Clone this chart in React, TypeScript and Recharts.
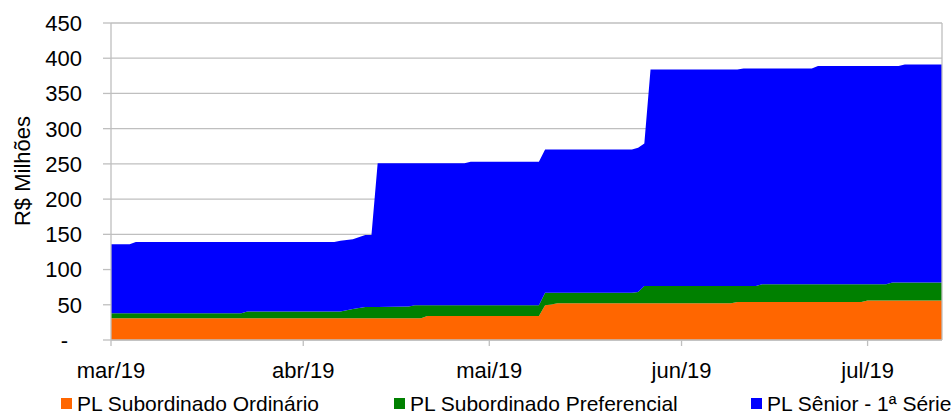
import React from "react";
import { AreaChart, Area, XAxis, YAxis, CartesianGrid, Legend, ReferenceLine } from "recharts";

// dates where the series change (linear between them, like the original)
const dates = [
  "2019-03-01", "2019-03-04", "2019-03-05", "2019-03-22", "2019-03-23",
  "2019-04-06", "2019-04-07", "2019-04-09", "2019-04-11", "2019-04-12",
  "2019-04-13", "2019-04-18", "2019-04-19", "2019-04-20", "2019-04-21",
  "2019-04-27", "2019-04-28", "2019-05-09", "2019-05-10", "2019-05-11",
  "2019-05-12", "2019-05-24", "2019-05-25", "2019-05-26", "2019-05-27",
  "2019-06-09", "2019-06-10", "2019-06-11", "2019-06-13", "2019-06-14",
  "2019-06-22", "2019-06-23", "2019-06-30", "2019-07-01", "2019-07-04",
  "2019-07-05", "2019-07-06", "2019-07-07", "2019-07-13",
];
const ordinario = [
  31, 31, 31, 31, 31,
  31, 31, 31, 31, 31,
  31, 31, 31, 31, 34,
  34, 34, 34, 49.5, 50.5,
  52, 52, 52, 52, 52,
  52, 54, 54, 54, 54,
  54, 54, 54, 56, 56,
  56, 56, 56, 56,
];
const preferencial = [
  7, 7, 7, 7, 9.5,
  9.5, 9.5, 13, 16, 16,
  16, 16.5, 18.5, 18.5, 15.5,
  15.5, 15.5, 15.5, 17.5, 16.5,
  15, 15, 16, 24.5, 24.5,
  24.5, 22.5, 22.5, 22.5, 25,
  25, 25, 25, 23, 23,
  25.5, 25.5, 25.5, 25.5,
];
const senior = [
  98, 98, 101, 101, 98.5,
  98.5, 100.5, 99, 102, 102,
  204, 203.5, 201.5, 201.5, 201.5,
  201.5, 203.5, 203.5, 203.5, 203.5,
  203.5, 203.5, 205, 202.5, 307.5,
  307.5, 307.5, 309, 309, 306.5,
  306.5, 310, 310, 310, 310,
  307.5, 307.5, 309.5, 309.5,
];

const monthTicks = ["2019-03-01", "2019-04-01", "2019-05-01", "2019-06-01", "2019-07-01"];
const monthLabels = ["mar/19", "abr/19", "mai/19", "jun/19", "jul/19"];
const startDate = "2019-03-01";
const endDate = "2019-07-13";
const yTicks = [0, 50, 100, 150, 200, 250, 300, 350, 400, 450];

const seriesNames = ["PL Subordinado Ordinário", "PL Subordinado Preferencial", "PL Sênior - 1ª Série"];
const colors = ["#FF6600", "#008000", "#0000FF"];

const ts = (d: string) => Date.parse(d + "T00:00:00Z");

const data = dates.map((d, i) => ({
  t: ts(d),
  ordinario: ordinario[i],
  preferencial: preferencial[i],
  senior: senior[i],
}));

const font = "'Liberation Sans', Arial, sans-serif";
const grey = "#bfbfbf";

function YTick(props: any) {
  const { x, y, payload } = props;
  const zero = payload.value === 0;
  return (
    <text x={zero ? x - 14 : x} y={y} dy="0.36em" textAnchor="end" fill="#000" fontSize={22} fontFamily={font}>
      {zero ? "-" : payload.value}
    </text>
  );
}

function LegendBox() {
  const lefts = [61, 394, 751];
  return (
    <div style={{ position: "relative", width: 951, height: 30, fontFamily: font, fontSize: 21 }}>
      {seriesNames.map((n, i) => (
        <div key={n} style={{ position: "absolute", left: lefts[i], top: 0 }}>
          <div style={{ position: "absolute", left: 0, top: 9, width: 11, height: 11, background: colors[i] }} />
          <div style={{ position: "absolute", left: 16, top: 4, lineHeight: "21px", whiteSpace: "nowrap", color: "#000" }}>{n}</div>
        </div>
      ))}
    </div>
  );
}

export default function App() {
  return (
    <div style={{ position: "absolute", left: 0, top: 0, background: "#fff" }}>
      <AreaChart width={951} height={419} data={data} margin={{ top: 23, right: 9, bottom: 0, left: 0 }}>
        <CartesianGrid vertical={false} stroke={grey} strokeWidth={1.3} />
        <XAxis
          dataKey="t"
          type="number"
          scale="time"
          domain={[ts(startDate), ts(endDate)]}
          ticks={monthTicks.map(ts)}
          interval={0}
          tickFormatter={(v: number) => monthLabels[monthTicks.map(ts).indexOf(v)]}
          height={49}
          tickSize={6}
          tickMargin={16}
          stroke={grey}
          strokeWidth={1.3}
          tick={{ fill: "#000", fontSize: 22, fontFamily: font }}
        />
        <YAxis
          domain={[0, 450]}
          ticks={yTicks}
          interval={0}
          width={111}
          tickSize={8}
          tickMargin={21}
          stroke={grey}
          strokeWidth={1.3}
          tick={<YTick />}
          label={{
            content: () => (
              <text x={22} y={171} transform="rotate(-90, 22, 171)" textAnchor="middle" dominantBaseline="central" fontSize={22} fontFamily={font} fill="#000">
                R$ Milhões
              </text>
            ),
          }}
        />
        <ReferenceLine x={ts(endDate)} stroke={grey} strokeWidth={1.3} />
        <Legend verticalAlign="bottom" align="left" height={30} wrapperStyle={{ left: 0, width: 951 }} content={() => <LegendBox />} />
        <Area type="linear" dataKey="ordinario" stackId="1" fill={colors[0]} fillOpacity={1} stroke="none" isAnimationActive={false} />
        <Area type="linear" dataKey="preferencial" stackId="1" fill={colors[1]} fillOpacity={1} stroke="none" isAnimationActive={false} />
        <Area type="linear" dataKey="senior" stackId="1" fill={colors[2]} fillOpacity={1} stroke="none" isAnimationActive={false} />
      </AreaChart>
    </div>
  );
}
